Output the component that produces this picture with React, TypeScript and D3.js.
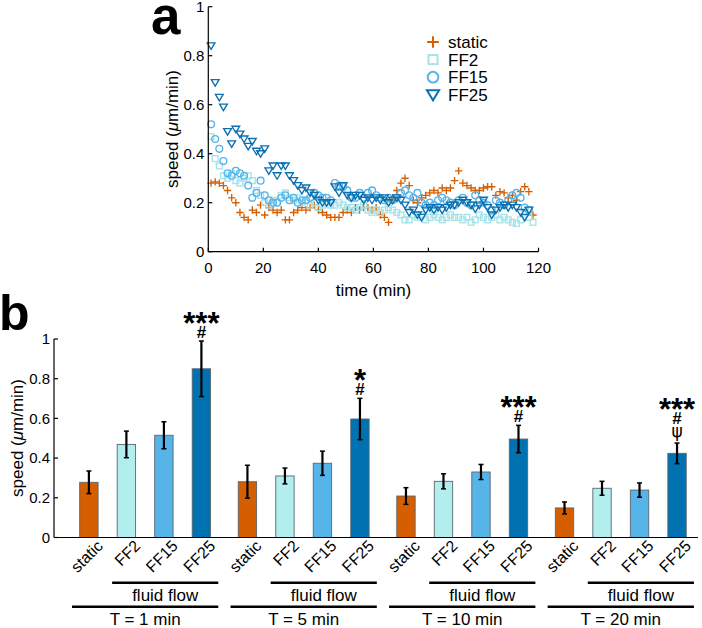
import React from "react";
import * as d3 from "d3";

const FONT = "'Liberation Sans', Arial, Helvetica, sans-serif";

// ---------- Panel a: speed over time ----------
const times = d3.range(1, 118.5, 1.5); // sampling times (min)

const staticSpeed = [
  0.28, 0.285, 0.28, 0.27, 0.25, 0.22, 0.2, 0.16, 0.14, 0.13,
  0.17, 0.16, 0.19, 0.15, 0.18, 0.17, 0.16, 0.17, 0.13, 0.13,
  0.16, 0.17, 0.18, 0.17, 0.18, 0.19, 0.17, 0.16, 0.15, 0.14,
  0.14, 0.14, 0.16, 0.17, 0.16, 0.18, 0.17, 0.18, 0.18, 0.17,
  0.18, 0.15, 0.14, 0.12, 0.22, 0.25, 0.28, 0.3, 0.27, 0.21,
  0.2, 0.22, 0.23, 0.24, 0.25, 0.24, 0.26, 0.25, 0.26, 0.29,
  0.33, 0.28, 0.27, 0.26, 0.25, 0.25, 0.26, 0.265, 0.265, 0.23,
  0.245, 0.24, 0.22, 0.23, 0.21, 0.245, 0.265, 0.245, 0.15,
];
const ff2Speed = [
  0.47, 0.38, 0.35, 0.31, 0.3, 0.32, 0.29, 0.28, 0.3, 0.31,
  0.29, 0.25, 0.23, 0.2, 0.19, 0.21, 0.2, 0.23, 0.24, 0.22,
  0.21, 0.22, 0.2, 0.21, 0.19, 0.2, 0.18, 0.19, 0.2, 0.19,
  0.19, 0.2, 0.19, 0.18, 0.18, 0.17, 0.18, 0.19, 0.17, 0.16,
  0.17, 0.16, 0.17, 0.18, 0.17, 0.16, 0.15, 0.13, 0.13, 0.15,
  0.14, 0.15, 0.13, 0.14, 0.15, 0.14, 0.13, 0.14, 0.15, 0.14,
  0.14, 0.13, 0.14, 0.12, 0.13, 0.15, 0.14, 0.13, 0.14, 0.15,
  0.13, 0.14, 0.13, 0.12, 0.115, 0.13, 0.16, 0.14, 0.12,
];
const ff15Speed = [
  0.52, 0.46, 0.42, 0.37, 0.32, 0.31, 0.33, 0.32, 0.31, 0.27,
  0.22, 0.24, 0.29, 0.23, 0.21, 0.2, 0.2, 0.22, 0.23, 0.21,
  0.22, 0.2, 0.21, 0.21, 0.22, 0.24, 0.23, 0.22, 0.22, 0.21,
  0.28, 0.27, 0.265, 0.25, 0.22, 0.22, 0.24, 0.22, 0.24, 0.25,
  0.23, 0.22, 0.21, 0.22, 0.21, 0.22, 0.24, 0.25, 0.23, 0.22,
  0.24, 0.2, 0.19, 0.2, 0.19, 0.21, 0.22, 0.21, 0.2, 0.19,
  0.21, 0.22, 0.2, 0.19, 0.23, 0.21, 0.2, 0.19, 0.17, 0.21,
  0.2, 0.19, 0.21, 0.23, 0.24, 0.22, 0.18, 0.17,
];
const ff25Speed = [
  0.84, 0.69, 0.63, 0.59, 0.49, 0.44, 0.5, 0.48, 0.46, 0.43,
  0.45, 0.41, 0.4, 0.42, 0.33, 0.35, 0.31, 0.35, 0.35, 0.31,
  0.29, 0.27, 0.25, 0.26, 0.24, 0.23, 0.21, 0.2, 0.2, 0.2,
  0.265, 0.24, 0.27, 0.23, 0.22, 0.23, 0.23, 0.21, 0.22, 0.21,
  0.22, 0.21, 0.22, 0.2, 0.21, 0.22, 0.21, 0.19, 0.16, 0.17,
  0.15, 0.14, 0.17, 0.18, 0.17, 0.18, 0.17, 0.18, 0.19, 0.19,
  0.2, 0.21, 0.2, 0.19, 0.175, 0.19, 0.21, 0.18, 0.15, 0.17,
  0.18, 0.19, 0.18, 0.19, 0.18, 0.16, 0.14, 0.17,
];

const seriesNames = ["static", "FF2", "FF15", "FF25"];
const seriesData = [staticSpeed, ff2Speed, ff15Speed, ff25Speed];
const markerColors = ["#D55E00", "#a6e2e8", "#56B4E9", "#0B70B0"];

const timeTicks = [0, 20, 40, 60, 80, 100, 120];
const speedTicks = [0, 0.2, 0.4, 0.6, 0.8, 1];

// ---------- Panel b: bar chart ----------
const groupLabels = ["T = 1 min", "T = 5 min", "T = 10 min", "T = 20 min"];
const conditions = ["static", "FF2", "FF15", "FF25"];
const barColors = ["#D55E00", "#b3eeee", "#56B4E9", "#0072B2"];
const staticMean = [0.278, 0.281, 0.209, 0.149];
const ff2Mean = [0.469, 0.31, 0.283, 0.248];
const ff15Mean = [0.515, 0.374, 0.33, 0.239];
const ff25Mean = [0.85, 0.597, 0.496, 0.424];
const staticErr = [0.057, 0.083, 0.042, 0.03];
const ff2Err = [0.067, 0.04, 0.038, 0.035];
const ff15Err = [0.068, 0.061, 0.038, 0.036];
const ff25Err = [0.14, 0.104, 0.069, 0.052];
const annotations = [["***", "#"], ["*", "#"], ["***", "#"], ["***", "#", "ψ"]];
const flowLabel = "fluid flow";

const means = [staticMean, ff2Mean, ff15Mean, ff25Mean];
const errs = [staticErr, ff2Err, ff15Err, ff25Err];

function Marker({ kind, x, y, color, s, sw }: { kind: number; x: number; y: number; color: string; s: number; sw: number }) {
  if (kind === 0) {
    return <path d={`M${x - s},${y}H${x + s}M${x},${y - s}V${y + s}`} stroke={color} strokeWidth={sw} fill="none" />;
  }
  if (kind === 1) {
    const h = s * 0.78;
    return <rect x={x - h} y={y - h} width={2 * h} height={2 * h} stroke={color} strokeWidth={sw} fill="none" />;
  }
  if (kind === 2) {
    return <circle cx={x} cy={y} r={s * 0.92} stroke={color} strokeWidth={sw} fill="none" />;
  }
  const w = s * 1.05;
  return (
    <path
      d={`M${x - w},${y - s * 0.8}L${x + w},${y - s * 0.8}L${x},${y + s * 0.95}Z`}
      stroke={color}
      strokeWidth={sw}
      fill="none"
    />
  );
}

export default function App() {
  // panel a scales
  const xA = d3.scaleLinear().domain([0, 120]).range([208.3, 538.5]);
  const yA = d3.scaleLinear().domain([0, 1]).range([251.7, 6.7]);

  // panel b scales
  const groupStep = 4.227;
  const xB = d3.scaleLinear().domain([-0.93, 16.24]).range([54, 698]);
  const yB = d3.scaleLinear().domain([0, 1]).range([537.5, 339]);
  const unit = xB(1) - xB(0);
  const pos = (g: number, i: number) => xB(g * groupStep + i);
  const barW = unit * 0.49;

  const fmt = (v: number) => (v === 0 ? "0" : v === 1 ? "1" : d3.format(".1f")(v));

  const annotationMarks = (g: number) => {
    const cx = pos(g, 3);
    const top = yB(ff25Mean[g] + ff25Err[g]);
    const lines = annotations[g];
    const out: any[] = [];
    let yb = top;
    for (let j = lines.length - 1; j >= 0; j--) {
      const s = lines[j];
      const isStar = s.includes("*");
      const bottom = j === lines.length - 1;
      if (bottom) yb = top - (s === "ψ" ? 6 : 3);
      else if (isStar) yb = yb - 4;
      else yb = yb - 13;
      out.push(
        <text
          key={j}
          x={cx}
          y={yb}
          fill="#000"
          fontSize={isStar ? 31 : 17}
          fontFamily={s === "ψ" ? "'DejaVu Sans', sans-serif" : FONT}
          fontWeight={s === "ψ" ? "normal" : "bold"}
          textAnchor="middle"
        >
          {s}
        </text>
      );
    }
    return out;
  };

  return (
    <svg
      width={702}
      height={628}
      style={{ position: "absolute", left: 0, top: 0, display: "block", background: "#fff" }}
      fontFamily={FONT}
    >
      {/* ===== Panel a ===== */}
      <text x={151} y={34} fontSize={53} fontWeight="bold">a</text>

      {/* markers */}
      {seriesData.map((data, k) => (
        <g key={seriesNames[k]}>
          {data.map((v, j) => (
            <Marker key={j} kind={k} x={xA(times[j])} y={yA(v)} color={markerColors[k]} s={3.7} sw={1.35} />
          ))}
        </g>
      ))}

      {/* axes */}
      <line x1={xA(0)} x2={xA(0)} y1={yA(0)} y2={yA(1)} stroke="#000" strokeWidth={1.2} />
      <line x1={xA(0)} x2={xA(120)} y1={yA(0)} y2={yA(0)} stroke="#000" strokeWidth={1.2} />
      {speedTicks.map((t) => (
        <g key={"ya" + t}>
          <line x1={xA(0)} x2={xA(0) + 4} y1={yA(t)} y2={yA(t)} stroke="#000" strokeWidth={1.2} />
          <text x={xA(0) - 4} y={yA(t)} dy="0.35em" fontSize={15} textAnchor="end">{fmt(t)}</text>
        </g>
      ))}
      {timeTicks.map((t) => (
        <g key={"xa" + t}>
          <line x1={xA(t)} x2={xA(t)} y1={yA(0)} y2={yA(0) - 4} stroke="#000" strokeWidth={1.2} />
          <text x={xA(t)} y={273} fontSize={15} textAnchor="middle">{t}</text>
        </g>
      ))}
      <text x={373.5} y={296} fontSize={17} textAnchor="middle">time (min)</text>
      <text transform={`translate(178,129) rotate(-90)`} fontSize={17} textAnchor="middle">
        speed (<tspan fontStyle="italic">μ</tspan>m/min)
      </text>

      {/* legend */}
      {seriesNames.map((n, k) => (
        <g key={"leg" + n}>
          <Marker kind={k} x={433} y={42 + k * 17.6} color={markerColors[k]} s={5.8} sw={2} />
          <text x={448} y={42 + k * 17.6} dy="0.36em" fontSize={17}>{n}</text>
        </g>
      ))}

      {/* ===== Panel b ===== */}
      <text x={-1} y={330} fontSize={50} fontWeight="bold">b</text>

      {groupLabels.map((gl, g) => (
        <g key={gl}>
          {conditions.map((c, i) => {
            const cx = pos(g, i);
            const m = means[i][g];
            const e = errs[i][g];
            return (
              <g key={c}>
                <rect
                  x={cx - barW / 2}
                  y={yB(m)}
                  width={barW}
                  height={yB(0) - yB(m)}
                  fill={barColors[i]}
                  stroke="#5a6670"
                  strokeWidth={0.9}
                />
                <line x1={cx} x2={cx} y1={yB(m + e)} y2={yB(m - e)} stroke="#000" strokeWidth={2.2} />
                <line x1={cx - 2.5} x2={cx + 2.5} y1={yB(m + e)} y2={yB(m + e)} stroke="#000" strokeWidth={1.5} />
                <line x1={cx - 2.5} x2={cx + 2.5} y1={yB(m - e)} y2={yB(m - e)} stroke="#000" strokeWidth={1.5} />
                <text
                  transform={`translate(${cx + 15},547) rotate(-45)`}
                  fontSize={16}
                  textAnchor="end"
                >
                  {c}
                </text>
              </g>
            );
          })}
          {annotationMarks(g)}
          {/* group brackets */}
          <line
            x1={pos(g, 1) - unit * 0.38}
            x2={pos(g, 3) + unit * 0.45}
            y1={582.7}
            y2={582.7}
            stroke="#000"
            strokeWidth={2.6}
          />
          <text x={(pos(g, 1) - unit * 0.38 + pos(g, 3) + unit * 0.45) / 2} y={601} fontSize={17} textAnchor="middle">
            {flowLabel}
          </text>
          <line
            x1={pos(g, 0) - unit * 0.45}
            x2={pos(g, 3) + unit * 0.45}
            y1={606.7}
            y2={606.7}
            stroke="#000"
            strokeWidth={2.6}
          />
          <text x={(pos(g, 0) - unit * 0.45 + pos(g, 3) + unit * 0.45) / 2} y={625} fontSize={17} textAnchor="middle">
            {gl}
          </text>
        </g>
      ))}

      {/* axes b */}
      <line x1={xB.range()[0]} x2={xB.range()[0]} y1={yB(0)} y2={yB(1)} stroke="#000" strokeWidth={1.2} />
      <line x1={xB.range()[0]} x2={xB.range()[1]} y1={yB(0)} y2={yB(0)} stroke="#000" strokeWidth={1.2} />
      {speedTicks.map((t) => (
        <g key={"yb" + t}>
          <line x1={xB.range()[0]} x2={xB.range()[0] + 4} y1={yB(t)} y2={yB(t)} stroke="#000" strokeWidth={1.2} />
          <text x={xB.range()[0] - 4} y={yB(t)} dy="0.35em" fontSize={15} textAnchor="end">{fmt(t)}</text>
        </g>
      ))}
      <text transform={`translate(23,438) rotate(-90)`} fontSize={17} textAnchor="middle">
        speed (<tspan fontStyle="italic">μ</tspan>m/min)
      </text>
    </svg>
  );
}
